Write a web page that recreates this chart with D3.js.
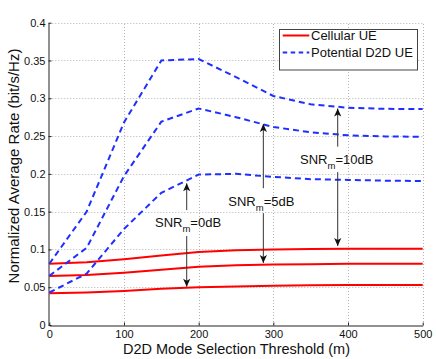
<!DOCTYPE html>
<html>
<head>
<meta charset="utf-8">
<script src="https://cdn.jsdelivr.net/npm/d3@7"></script>
<style>
  html, body { margin: 0; padding: 0; background: #fff; }
  svg { display: block; font-family: "Liberation Sans", Arial, Helvetica, sans-serif; }
</style>
</head>
<body>
<svg id="chart" width="436" height="359"></svg>
<script>
// ---------- data ----------
const thresholds = [0, 50, 100, 150, 200, 250, 300, 350, 400, 450, 500];

const d2d10dB  = [0.081, 0.150, 0.268, 0.350, 0.352, 0.328, 0.303, 0.292, 0.2875, 0.286, 0.2857];
const d2d5dB   = [0.065, 0.102, 0.197, 0.269, 0.2865, 0.275, 0.262, 0.255, 0.251, 0.2495, 0.249];
const d2d0dB   = [0.043, 0.068, 0.127, 0.175, 0.199, 0.200, 0.196, 0.193, 0.192, 0.191, 0.1905];

const cell10dB = [0.081, 0.083, 0.087, 0.092, 0.0966, 0.099, 0.100, 0.1005, 0.101, 0.101, 0.101];
const cell5dB  = [0.065, 0.066, 0.069, 0.073, 0.077, 0.079, 0.080, 0.0805, 0.081, 0.081, 0.081];
const cell0dB  = [0.042, 0.043, 0.045, 0.048, 0.050, 0.051, 0.052, 0.0525, 0.053, 0.053, 0.053];

const xTicks = [0, 100, 200, 300, 400, 500];
const yTicks = [0, 0.05, 0.1, 0.15, 0.2, 0.25, 0.3, 0.35, 0.4];
const yTickLabels = ["0", "0.05", "0.1", "0.15", "0.2", "0.25", "0.3", "0.35", "0.4"];

const legendLabels = ["Cellular UE", "Potential D2D UE"];

const xLabel = "D2D Mode Selection Threshold (m)";
const yLabel = "Normalized Average Rate (bit/s/Hz)";

// annotations: label, arrow x, up-arrow tail/tip, down-arrow tail/tip, text anchor (data coords)
const annSNR   = ["0dB", "5dB", "10dB"];
const annX     = [184, 286.6, 386.2];
const annUp    = [[0.152, 0.1874], [0.181, 0.266], [0.236, 0.2866]];
const annDown  = [[0.1177, 0.0507], [0.148, 0.082], [0.2024, 0.1045]];
const annTextX = [141.5, 239.7, 335.7];
const annTextY = [0.130, 0.1578, 0.213];

// ---------- layout ----------
const svg = d3.select("#chart");
const x = d3.scaleLinear().domain([0, 500]).range([49.3, 422.7]);
const y = d3.scaleLinear().domain([0, 0.4]).range([325, 22.7]);

const RED = "#ff0000";
const BLUE = "#1f2fff";

// grid (dotted)
const grid = svg.append("g");
grid.selectAll(".gx").data(xTicks.filter(d => d > 0)).enter().append("line")
  .attr("x1", d => Math.round(x(d)) + 0.5).attr("x2", d => Math.round(x(d)) + 0.5)
  .attr("y1", y(0)).attr("y2", y(0.4))
  .attr("stroke", "#b4b4b4").attr("stroke-width", 1).attr("stroke-dasharray", "1,2");
grid.selectAll(".gy").data(yTicks.filter(d => d > 0)).enter().append("line")
  .attr("y1", d => Math.round(y(d)) + 0.5).attr("y2", d => Math.round(y(d)) + 0.5)
  .attr("x1", x(0)).attr("x2", x(500))
  .attr("stroke", "#b4b4b4").attr("stroke-width", 1).attr("stroke-dasharray", "1,2");

// axes
const xAxis = d3.axisBottom(x).tickValues(xTicks).tickSizeInner(-3).tickSizeOuter(0).tickPadding(5);
const yAxis = d3.axisLeft(y).tickValues(yTicks).tickSizeInner(-3).tickSizeOuter(0).tickPadding(3)
  .tickFormat((d, i) => yTickLabels[i]);

const gx = svg.append("g").attr("transform", `translate(0,${Math.round(y(0)) + 0.5})`).call(xAxis);
const gy = svg.append("g").attr("transform", `translate(${Math.round(x(0)) - 0.5},0)`).call(yAxis);
[gx, gy].forEach(g => {
  g.select(".domain").attr("stroke", "#222");
  g.selectAll(".tick line").attr("stroke", "#222");
  g.selectAll(".tick text").attr("fill", "#111").style("font-size", "11px")
    .style("font-family", '"Liberation Sans", Arial, sans-serif');
});
gx.selectAll(".tick text").attr("dy", "0.71em");

// axis labels
svg.append("text").attr("x", 236.5).attr("y", 354).attr("text-anchor", "middle")
  .style("font-size", "14.5px").attr("fill", "#111").text(xLabel);
svg.append("text").attr("transform", "translate(18.5,166) rotate(-90)").attr("text-anchor", "middle")
  .style("font-size", "15px").attr("fill", "#111").text(yLabel);

// lines
const line = d3.line().x((d, i) => x(thresholds[i])).y(d => y(d));
const plot = svg.append("g");
[cell0dB, cell5dB, cell10dB].forEach(s => {
  plot.append("path").datum(s).attr("d", line).attr("fill", "none")
    .attr("stroke", RED).attr("stroke-width", 2);
});
[d2d0dB, d2d5dB, d2d10dB].forEach(s => {
  plot.append("path").datum(s).attr("d", line).attr("fill", "none")
    .attr("stroke", BLUE).attr("stroke-width", 2).attr("stroke-dasharray", "6,4");
});

// arrow marker
const defs = svg.append("defs");
defs.append("marker").attr("id", "ah").attr("markerUnits", "userSpaceOnUse")
  .attr("viewBox", "-9 -5 10 10").attr("refX", 0).attr("refY", 0)
  .attr("markerWidth", 10).attr("markerHeight", 10).attr("orient", "auto")
  .append("path").attr("d", "M0,0 L-8,-3.6 L-6,0 L-8,3.6 Z").attr("fill", "#111");

const ann = svg.append("g");
annSNR.forEach((lab, i) => {
  const ax = x(annX[i]);
  [annUp[i], annDown[i]].forEach(seg => {
    ann.append("line").attr("x1", ax).attr("x2", ax)
      .attr("y1", y(seg[0])).attr("y2", y(seg[1]))
      .attr("stroke", "#333").attr("stroke-width", 1).attr("marker-end", "url(#ah)");
  });
  const t = ann.append("text").attr("x", x(annTextX[i])).attr("y", y(annTextY[i]))
    .style("font-size", "13px").attr("fill", "#111");
  t.append("tspan").text("SNR");
  t.append("tspan").attr("dy", 5).style("font-size", "9.5px").text("m");
  t.append("tspan").attr("dy", -5).text("=" + lab);
});

// legend
const lg = svg.append("g");
lg.append("rect").attr("x", 279.5).attr("y", 29.5).attr("width", 138).attr("height", 40.5)
  .attr("fill", "#fff").attr("stroke", "#444").attr("stroke-width", 1);
const legendColors = [RED, BLUE];
const legendDash = [null, "4.5,3.5"];
const legendY = [35.5, 52.5];
legendLabels.forEach((lab, i) => {
  lg.append("line").attr("x1", 282.7).attr("x2", 309.3).attr("y1", legendY[i]).attr("y2", legendY[i])
    .attr("stroke", legendColors[i]).attr("stroke-width", 2)
    .attr("stroke-dasharray", legendDash[i]);
  lg.append("text").attr("x", 311).attr("y", legendY[i]).attr("dy", "0.35em")
    .style("font-size", "13px").attr("fill", "#111").text(lab);
});
</script>
</body>
</html>
